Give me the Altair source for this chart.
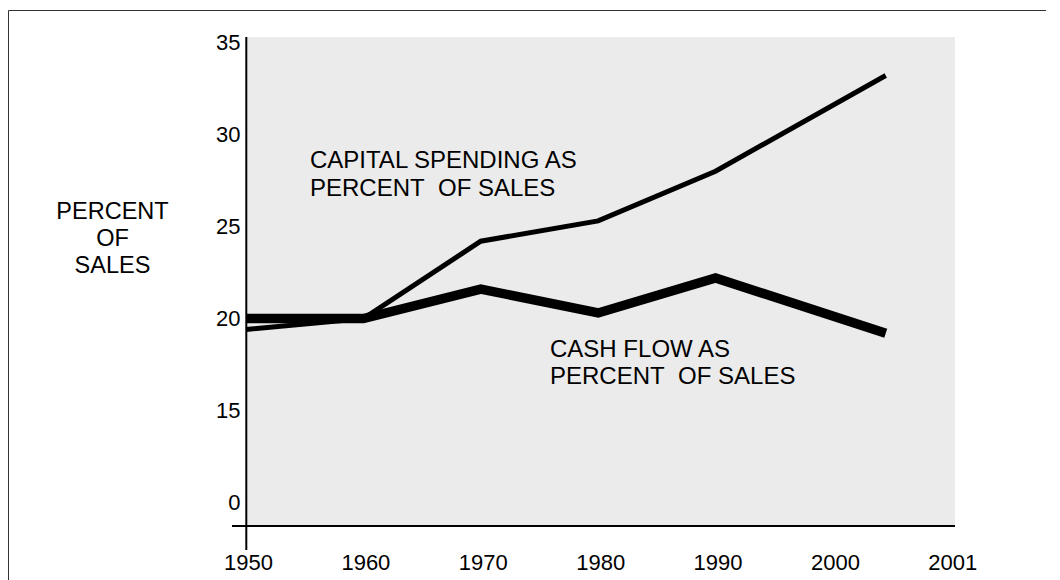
import altair as alt
import pandas as pd

# ---- data ----
years = [1950, 1960, 1970, 1980, 1990, 2004.5]
capital_spending = [19.4, 20.0, 24.2, 25.3, 28.0, 33.2]
cash_flow = [20.0, 20.0, 21.6, 20.3, 22.2, 19.2]

series_names = ["Capital spending", "Cash flow"]
x_tick_values = [1950, 1960, 1970, 1980, 1990, 2000, 2010]
x_tick_labels = ["1950", "1960", "1970", "1980", "1990", "2000", "2001"]
y_tick_values = [10, 15, 20, 25, 30, 35]
y_tick_labels = ["0", "15", "20", "25", "30", "35"]

annotations = [
    {"year": 1955.45, "value": 28.16, "text": ["CAPITAL SPENDING AS", "PERCENT\u00a0 OF SALES"]},
    {"year": 1975.9, "value": 17.92, "text": ["CASH FLOW AS", "PERCENT\u00a0 OF SALES"]},
]

rows = []
for y, c in zip(years, capital_spending):
    rows.append({"year": y, "value": c, "series": series_names[0]})
for y, c in zip(years, cash_flow):
    rows.append({"year": y, "value": c, "series": series_names[1]})
df = pd.DataFrame(rows)

FONT = "Liberation Sans"

x_label_expr = " : ".join(
    f"datum.value == {v} ? '{l}'" for v, l in zip(x_tick_values, x_tick_labels)
) + " : ''"
y_label_expr = " : ".join(
    f"datum.value == {v} ? '{l}'" for v, l in zip(y_tick_values, y_tick_labels)
) + " : ''"

x_enc = alt.X(
    "year:Q",
    scale=alt.Scale(domain=[1950, 2010.4], nice=False, zero=False),
    axis=alt.Axis(
        values=x_tick_values,
        labelExpr=x_label_expr,
        ticks=False,
        domain=False,
        grid=False,
        labelFont=FONT,
        labelFontSize=22,
        labelColor="black",
        labelBaseline="alphabetic",
        labelPadding=43,
        labelOffset=2,
        labelFlush=False,
        labelOverlap=False,
        labelBound=False,
        title=None,
    ),
)
y_enc = alt.Y(
    "value:Q",
    scale=alt.Scale(domain=[8.73, 35.29], nice=False, zero=False),
    axis=alt.Axis(
        values=y_tick_values,
        labelExpr=y_label_expr,
        ticks=False,
        domain=False,
        grid=False,
        labelFont=FONT,
        labelFontSize=22,
        labelColor="black",
        labelPadding=6,
        labelFlush=False,
        labelOverlap=False,
        labelBound=False,
        title=["PERCENT", "OF", "SALES"],
        titleFont=FONT,
        titleFontSize=23.5,
        titleFontWeight="normal",
        titleColor="black",
        titleAngle=0,
        titleAlign="center",
        titleBaseline="alphabetic",
        titleLineHeight=27,
        titleX=-134,
        titleY=181.3,
    ),
)

lines = (
    alt.Chart(df)
    .mark_line(color="black", strokeCap="butt", strokeJoin="miter", clip=False)
    .encode(
        x=x_enc,
        y=y_enc,
        detail="series:N",
        strokeWidth=alt.StrokeWidth(
            "series:N",
            scale=alt.Scale(domain=series_names, range=[5, 9.5]),
            legend=None,
        ),
    )
)

labels = (
    alt.Chart(alt.Data(values=annotations))
    .mark_text(
        align="left",
        baseline="alphabetic",
        font=FONT,
        fontSize=24,
        lineHeight=27.5,
        color="black",
    )
    .encode(x="year:Q", y="value:Q", text="text:N")
)

one = alt.Data(values=[{"k": 1}])

# axis lines (extending past the corner as in the reference)
y_axis_line = (
    alt.Chart(one)
    .mark_rule(color="black", strokeWidth=2, clip=False)
    .encode(x=alt.value(0.3), y=alt.value(0), y2=alt.value(513))
)
x_axis_line = (
    alt.Chart(one)
    .mark_rule(color="black", strokeWidth=2, clip=False)
    .encode(x=alt.value(-14), x2=alt.value(709), y=alt.value(489))
)

# outer frame (only top and left edges are visible)
frame_top = (
    alt.Chart(one)
    .mark_rule(color="#333333", strokeWidth=1, clip=False)
    .encode(x=alt.value(-237.5), x2=alt.value(800), y=alt.value(-26.5))
)
frame_left = (
    alt.Chart(one)
    .mark_rule(color="#333333", strokeWidth=1, clip=False)
    .encode(x=alt.value(-237.5), y=alt.value(-26.5), y2=alt.value(560))
)

chart = (
    alt.layer(lines, labels, y_axis_line, x_axis_line, frame_top, frame_left)
    .properties(
        width=709,
        height=489,
        autosize=alt.AutoSizeParams(type="none"),
        padding={"left": 238, "top": 29, "right": 97, "bottom": 56},
        background="white",
    )
    .configure_view(fill="#ebebeb", stroke=None)
)

chart.save("out.html", embed_options={"renderer": "svg", "actions": False})
